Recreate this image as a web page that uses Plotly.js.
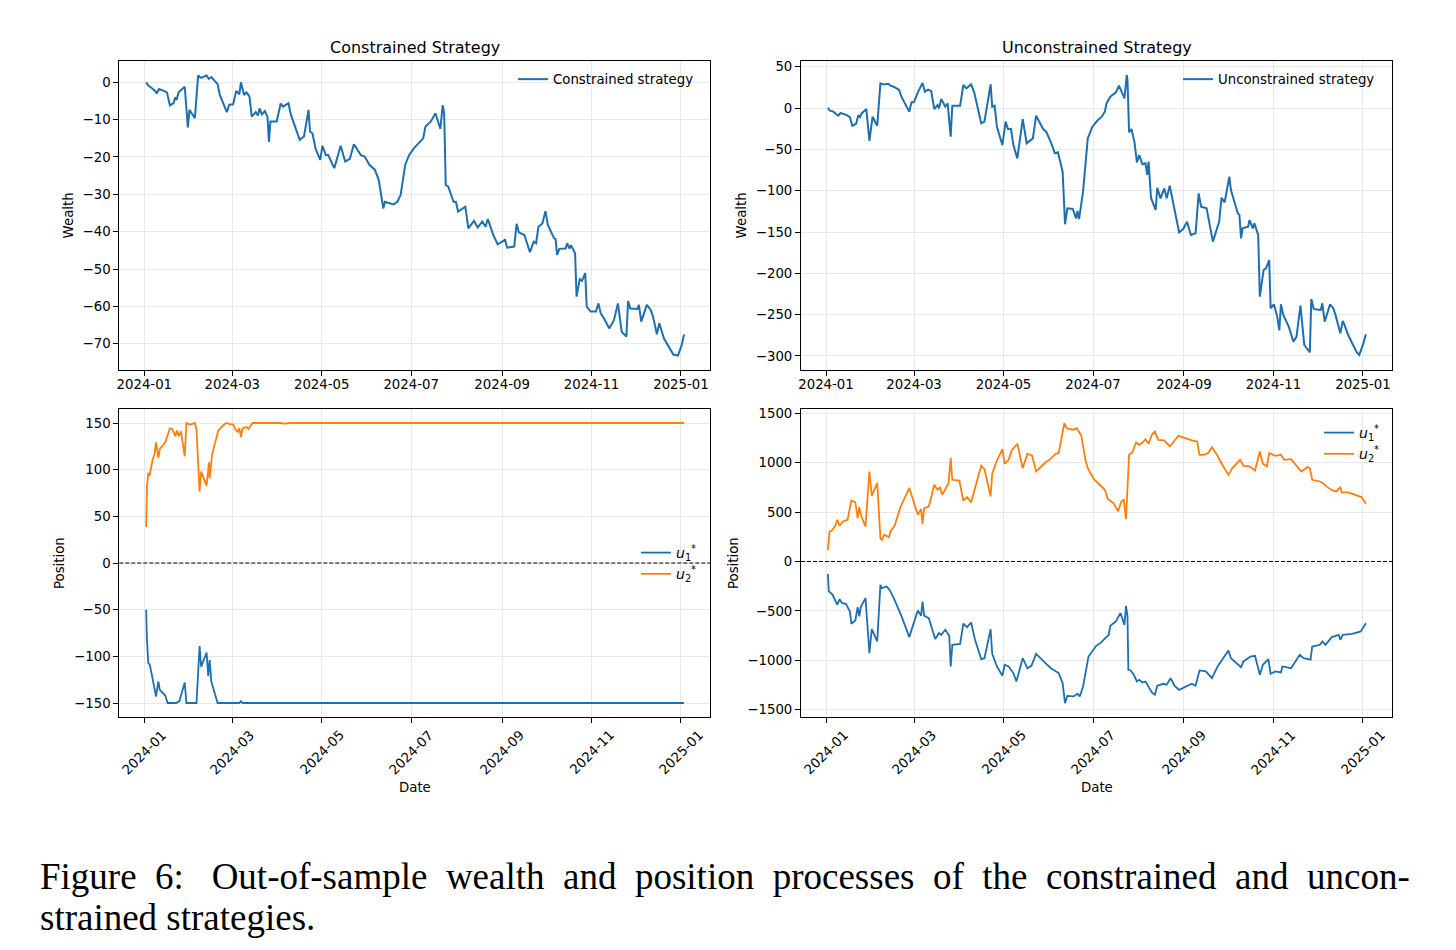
<!DOCTYPE html>
<html><head><meta charset="utf-8">
<script src="https://cdn.plot.ly/plotly-3.0.1.min.js"></script>
<style>html,body{margin:0;padding:0;background:#fff;} #chart{width:1456px;height:950px;}</style>
</head><body><div id="chart"></div>
<script>
// x tick positions and labels
const tickDates = ['2024-01-01','2024-03-01','2024-05-01','2024-07-01','2024-09-01','2024-11-01','2025-01-01'];
const tickLabels = ['2024-01','2024-03','2024-05','2024-07','2024-09','2024-11','2025-01'];

// ---- Constrained wealth (days since 2024-01-01, wealth) ----
const cWealthDays = [1.3,2.7,5.3,7.4,8.5,10,13.3,15.4,17.5,20,21,22,23.4,27.6,29.7,30.8,34.5,36.7,38.8,42.5,44,45.7,50,51.5,56.3,57.9,60.6,62.7,64.8,65.9,68,69.6,71.7,73.3,76,77.6,78.6,80.2,82.3,84,85,86,90.3,93,94.6,98.3,99.9,106,108.9,112,113,114.7,116.9,120,121.5,123.8,125.4,129.6,133.9,137,140.2,142.9,147.7,150.3,153.5,157.2,159.9,163,164.1,170,172.6,174.8,178,180.6,183.8,187.5,190.2,191.7,195.4,198.6,201.9,203.5,204.5,205.6,207.2,210.9,212.5,214,216.7,218.9,221,224.8,227.4,230.5,232.7,234.3,238,241,246,247.5,252.3,253.9,255.5,259.2,263,265.6,267.2,268.8,271.5,273.6,275.2,279.5,280.5,281.5,283.1,287.4,288.4,290,291,293.8,294.8,297,298.5,300.7,301.7,304.4,308,309.7,311.3,313.4,317.1,320.3,323,325.6,328.8,329.9,331.5,336.3,337.3,338.9,342.7,345.3,346.9,349.6,351.2,352.3,354.4,360.8,363.9,366.5,368.1];
const cWealthVals = [0,-0.9,-1.6,-2.3,-3.0,-1.8,-2.3,-2.7,-6.2,-5.6,-4.1,-4.7,-2.7,-1.2,-12.1,-7.4,-9.6,1.8,1.2,1.8,0.9,1.4,-0.5,-3.4,-8,-6,-5.9,-2.3,-3.2,0,-3.4,-2.7,-3.8,-9.2,-8,-8.9,-7,-8.6,-7.7,-9.2,-16,-10.5,-10.5,-5.7,-6.5,-5.6,-8.6,-15.4,-14.5,-7.4,-13.2,-13.7,-17.9,-20.8,-17,-19.5,-19.5,-23,-17,-21.2,-20.5,-16.6,-19.5,-19.9,-22.1,-23.4,-26.2,-33.8,-32,-32.7,-32,-30.2,-22,-19.5,-17.7,-16.3,-15,-11.9,-10.5,-8.3,-12.5,-6.1,-8.3,-27.5,-27.9,-32,-32,-34.6,-33.8,-33.3,-39.1,-37.1,-38.9,-37.3,-38.7,-36.6,-40.9,-43.4,-42.2,-44.3,-44,-37.9,-40.2,-40.9,-45.5,-42.7,-43.1,-38.7,-37.8,-34.5,-38.2,-41.8,-42,-46.2,-44.6,-44.5,-43.1,-44.5,-43.6,-45.8,-57.4,-52.7,-53.2,-51.1,-60.1,-61.4,-61.4,-59.2,-61.9,-63.2,-65.9,-63.7,-59.2,-66.8,-68.1,-58.6,-60.6,-60.7,-59.6,-64.1,-59.6,-60.9,-62.7,-67.5,-64.5,-65.9,-68.6,-72.9,-73.2,-70.4,-67.5];

// ---- Unconstrained wealth ----
const uWealthDays = [1.3,2.4,5,7.2,8.3,9.9,14.1,16.3,17.9,20.5,22.1,23.2,24.3,27.5,29.6,31.7,34.9,37.1,39.2,42.4,44,46.1,49.8,51.4,56.7,58.3,59.9,62.6,64.2,65.8,67.4,69.6,71.7,73.8,76,77,78.6,81.3,82.9,85,86.1,91.4,93.6,95.7,98.9,101,105.8,108,112.2,113.3,114.9,116.5,120.2,122.4,124,126.1,127.7,130.4,134.1,136.8,141,143.2,148,150.1,153.3,156,158.1,161.3,162.9,164.5,168.2,170.4,171.4,172.5,175.2,178.4,181.6,185.3,188,190.1,191.2,193.8,197.6,199.7,203.4,205,205.5,206.6,208.2,210.3,211.9,213.5,215.7,217.8,218.9,219.9,221.5,224.7,225.8,228,230.6,232.2,234.3,240.7,243.4,246.1,248.7,251.9,254,255.7,259.4,262.1,263.7,268,269.6,271.7,274.9,276,280.7,281.8,282.9,283.9,287.7,288.7,290.9,292,294.6,295.7,298.3,299.9,302.1,303.1,305.3,307.4,309,310.1,311.7,315.4,318.6,320.7,323.4,326,329.8,330.8,332.4,337.2,338.3,339.9,343.6,345.8,347.4,350.6,352.2,353.3,355.9,361.8,363.5,366.5,368];
const uWealthVals = [0.4,-2.8,-4.4,-7.7,-9.3,-6,-8.5,-10.9,-21.4,-19,-8.5,-10.9,-6.5,-1.2,-39.9,-10.5,-21.4,29.8,28.6,29.4,27,25.8,21.8,13.7,-4.4,6.9,6.9,19,23.8,30.2,19.8,22.2,20.6,-1.2,3.6,-0.4,10.9,1.6,5.6,-34.7,2.8,2.8,27.8,23.8,28.6,19,-18.5,-16.5,28.6,1.6,2.8,-22.6,-44.8,-16.5,-25.4,-25.4,-44.8,-60.9,-13.3,-42.7,-36.7,-9.3,-25.4,-28.6,-41.5,-54.8,-53.6,-77,-140.7,-121.4,-122.2,-133.5,-124.6,-134.3,-101.2,-36.7,-22.6,-14.5,-10.5,-4.4,5.6,13.7,19,27,11.7,39.9,33.9,-29.4,-25.4,-41.5,-65.7,-56.9,-68.1,-66.9,-81,-64.9,-108.5,-123.4,-96.4,-109.3,-97.2,-109.3,-94,-150.4,-146.4,-137.5,-153.6,-151.6,-103.2,-119.4,-121.4,-145.6,-161.7,-137.5,-108.5,-114.1,-83.1,-99.2,-127.4,-129.4,-157.7,-145.6,-143.5,-135.5,-145.6,-139.5,-153.6,-228.2,-196,-194,-183.9,-242.3,-237.5,-251.2,-269,-237.5,-250.4,-264.5,-282.7,-276.6,-239.1,-286.7,-295.6,-231,-243.1,-244.4,-236.3,-258.5,-237.5,-242.3,-251.2,-272.6,-257.7,-261.7,-274.6,-295.6,-298.8,-283.5,-273.8];

// ---- Constrained positions ----
const cU1Days = [1.3,1.8,2.7,3.7,5.3,8,9.6,10.6,14.3,15.9,21.8,23.9,27.6,28.7,35.6,37.7,38.8,42.5,43.6,44.6,45.7,50,64.8,65.9,67,368.1];
const cU1Vals = [-50,-82,-107,-109,-121,-143,-127,-136,-142,-150,-150,-148,-128,-150,-150,-89,-111,-96,-121,-104,-127,-150,-150,-148,-150,-150];
const cU2Days = [1.3,1.8,2.7,3.7,5.8,6.9,8,9.6,10.6,14.3,17.5,19.1,21.2,22.3,23.4,25,27.6,28.7,31.3,34.5,35.6,37.7,38.8,42.5,44.1,44.6,46.2,50.5,53.1,55.8,58.4,60.6,62.2,63.7,64.8,65.9,67,69.6,71.2,73.8,92.9,95.6,99.9,368.1];
const cU2Vals = [38.6,81.4,95.7,94.6,111.4,116,129.3,112.5,122.1,129.3,144.3,143.6,135.7,142.1,135.7,141,114.3,150,148.2,150,143.6,76.4,97.9,82.9,107.9,90.7,116.1,142.1,146.4,150,148.9,148.6,142.9,140.7,144.6,135,144.3,145.7,143.6,150,150,149.3,150,150];

// ---- Unconstrained positions ----
const uU1Days = [1.3,1.9,2.9,4.5,7.7,9.3,10.9,13.6,16.3,17.3,20,21.6,22.7,23.7,26.9,29.6,31.2,34.9,37.1,38.1,41.3,42.9,44.5,46.7,51.5,56.8,58.9,62.6,64.8,65.8,66.9,70.1,74.4,77,78.6,81.3,84,85,86.1,91.4,93.6,96.2,98.9,101.6,105.8,108,112.2,113.3,116.5,120.2,121.8,124.5,127.7,129.8,134.1,137.3,140,143.2,149.6,153.3,158.6,161.3,162.9,164.5,168.8,171.4,173,175.2,178.9,184.2,186.9,190.1,192.7,193.8,197.6,200.7,203.4,204.5,205.5,206.1,207.7,209.8,211.9,213.5,215.7,217.8,219.9,222.1,224.2,225.8,230.1,232.2,234.9,237.5,240.7,245,249.3,251.9,254.6,258.9,263.1,266.9,269.6,274.3,276,282.9,284.5,289.3,292.4,295.7,297.8,301.5,303.1,306.3,310.1,311.1,317,322.9,325.6,330.3,331.4,336.7,338.3,340.4,344.7,349.5,350.6,352.2,358.6,364.5,368];
const uU1Vals = [-125,-303,-313,-337,-438,-381,-421,-428,-506,-630,-597,-462,-556,-462,-371,-927,-684,-809,-236,-270,-253,-280,-320,-388,-556,-765,-664,-496,-549,-405,-549,-573,-785,-725,-742,-691,-752,-1062,-843,-833,-630,-664,-617,-792,-988,-978,-684,-934,-1062,-1156,-1045,-1062,-1129,-1214,-978,-1079,-1055,-934,-1028,-1079,-1129,-1230,-1433,-1359,-1365,-1338,-1365,-1264,-961,-853,-826,-775,-742,-651,-607,-522,-641,-448,-556,-1096,-1102,-1146,-1214,-1197,-1224,-1214,-1264,-1325,-1348,-1257,-1237,-1247,-1180,-1257,-1298,-1264,-1237,-1257,-1102,-1112,-1180,-1062,-1001,-900,-978,-1069,-1011,-961,-954,-1146,-1045,-988,-1136,-1112,-1122,-1062,-1079,-944,-978,-994,-860,-843,-809,-843,-765,-742,-792,-742,-732,-708,-624];
const uU2Days = [1.3,2.4,4,6.1,7.7,9.3,11.5,14.7,17.3,20,21.6,22.7,23.7,26.9,29.6,31.2,34.9,37.1,38.1,39.7,42.9,44,46.7,50.9,56.8,58.9,62.6,64.8,65.8,66.9,70.1,73.8,76,77.6,79.2,81.3,83.5,85,86.1,90.9,93.6,96.2,98.9,101.6,105.8,108,112.2,113.3,116.5,120.2,121.8,124.5,126.6,130.4,134.1,137.3,140.5,143.2,149.6,152.8,156.5,158.6,162.4,164,168.2,170.9,174.1,176.8,178.4,182.6,187.4,190.1,192.2,196,199.1,201.3,202.9,204.5,206.6,208.8,211.4,213.5,215.7,217.8,219.9,222.1,224.2,226.4,230.6,234.3,240.2,246.1,249.3,253,254.6,257.3,260.5,263.1,266.9,270.1,274.3,277,282.3,284.5,288.7,292.4,295.7,297.8,300.5,302.1,306.3,310.1,312.2,317,323.9,328.2,329.8,331.4,336.7,338.9,341,345.2,347.9,350.6,351.6,355.9,361.2,365,368];
const uU2Vals = [118,303,313,354,421,361,405,421,617,597,438,549,472,354,910,664,792,236,219,270,246,303,361,556,742,651,472,529,381,539,556,775,725,752,674,732,792,1045,826,819,617,651,597,742,967,934,657,887,1021,1136,988,1028,1123,1190,944,1089,1069,910,1001,1035,1089,1096,1399,1348,1332,1348,1271,1028,944,833,765,725,630,590,506,607,624,428,1079,1102,1203,1180,1203,1237,1190,1281,1315,1230,1224,1163,1271,1237,1224,1214,1079,1079,1096,1156,1069,978,876,944,1028,967,961,920,1112,988,961,1096,1069,1079,1028,1035,910,954,944,826,809,792,759,718,708,752,698,698,674,651,583];

const seriesNames = {c:'Constrained strategy', u:'Unconstrained strategy', u1:'<i>u</i><sub>1</sub><sup>*</sup>', u2:'<i>u</i><sub>2</sub><sup>*</sup>'};
const panelTitles = ['Constrained Strategy','Unconstrained Strategy'];
const captionWords1 = ['Figure','6:\u00a0','Out-of-sample','wealth','and','position','processes','of','the','constrained','and','uncon-'];
const captionLine2 = 'strained strategies.';

function toDate(d){
  const t = new Date(Date.UTC(2024,0,1) + Math.round(d*24)*3600000).toISOString();
  return t.slice(0,10)+' '+t.slice(11,16);
}
const dates = a => a.map(toDate);

const FONT = 'DejaVu Sans, Verdana, sans-serif';
const BLUE = '#1f6fae', ORANGE = '#ff7f0e';
const W = 1456, H = 950;
const px = v => v / W, py = v => 1 - v / H;
const xRange = ['2023-12-14 23:00','2025-01-21 00:00'];
const colL = [px(119.3), px(710.3)], colR = [px(801), px(1392.3)];
const rowT = [py(369.7), py(61)], rowB = [py(717), py(409)];

function xax(domain, anchor, showLabels){
  return {domain, anchor, type:'date', range:xRange, tickmode:'array', tickvals:tickDates, ticktext:tickLabels,
    showticklabels:showLabels, ticks:'outside', ticklen:5, tickwidth:1, tickcolor:'#000', ticklabelstandoff:-3,
    showline:true, linecolor:'#000', linewidth:1, mirror:true, showgrid:true, gridcolor:'#e8e8e8', gridwidth:1,
    zeroline:false, tickfont:{family:FONT, size:13.3, color:'#000'}, automargin:false, fixedrange:true};
}
function yax(domain, anchor, range, dtick){
  return {domain, anchor, range, tickmode:'linear', tick0:0, dtick, ticks:'outside', ticklen:5, tickwidth:1, tickcolor:'#000',
    showline:true, linecolor:'#000', linewidth:1, mirror:true, showgrid:true, gridcolor:'#e8e8e8', gridwidth:1,
    zeroline:false, tickfont:{family:FONT, size:13.3, color:'#000'}, automargin:false, fixedrange:true};
}

const traces = [
  {x:dates(cWealthDays), y:cWealthVals, xaxis:'x', yaxis:'y', name:seriesNames.c, legend:'legend', mode:'lines', line:{color:BLUE, width:2}},
  {x:dates(uWealthDays), y:uWealthVals, xaxis:'x2', yaxis:'y2', name:seriesNames.u, legend:'legend2', mode:'lines', line:{color:BLUE, width:2}},
  {x:dates(cU1Days), y:cU1Vals, xaxis:'x3', yaxis:'y3', name:seriesNames.u1, legend:'legend3', mode:'lines', line:{color:BLUE, width:1.8}},
  {x:dates(cU2Days), y:cU2Vals, xaxis:'x3', yaxis:'y3', name:seriesNames.u2, legend:'legend3', mode:'lines', line:{color:ORANGE, width:1.8}},
  {x:dates(uU1Days), y:uU1Vals, xaxis:'x4', yaxis:'y4', name:seriesNames.u1, legend:'legend4', mode:'lines', line:{color:BLUE, width:1.8}},
  {x:dates(uU2Days), y:uU2Vals, xaxis:'x4', yaxis:'y4', name:seriesNames.u2, legend:'legend4', mode:'lines', line:{color:ORANGE, width:1.8}}
];

function leg(xLeft, yTop, size){
  return {x:px(xLeft), y:py(yTop), xanchor:'left', yanchor:'top', bgcolor:'rgba(0,0,0,0)', borderwidth:0,
    font:{family:FONT, size:size||13.3, color:'#000'}, tracegroupgap:0, itemwidth:30};
}

const annotations = [];
function ann(x, y, text, opts){
  annotations.push(Object.assign({xref:'paper', yref:'paper', x, y, text, showarrow:false, xanchor:'center', yanchor:'middle',
    font:{family:FONT, size:13.3, color:'#000'}}, opts||{}));
}
ann(px((119.3+710.3)/2), py(47), panelTitles[0], {font:{family:FONT, size:16, color:'#000'}});
ann(px((801+1392.3)/2), py(47), panelTitles[1], {font:{family:FONT, size:16, color:'#000'}});
ann(px(68), py(215.4), 'Wealth', {textangle:-90});
ann(px(741), py(215.4), 'Wealth', {textangle:-90});
ann(px(59), py(563), 'Position', {textangle:-90});
ann(px(733), py(563), 'Position', {textangle:-90});
ann(px((119.3+710.3)/2), py(787), 'Date');
ann(px((801+1392.3)/2), py(787), 'Date');
['x3','x4'].forEach(xr => tickDates.forEach((d,i) => {
  annotations.push({xref:xr, yref:'paper', x:d, y:py(752), text:tickLabels[i], textangle:-45, showarrow:false,
    xanchor:'center', yanchor:'middle', font:{family:FONT, size:13.3, color:'#000'}});
}));
// caption: first line justified (interword space stretched, as in LaTeX)
const SERIF = 'Liberation Serif, Times New Roman, serif';
const capFont = {family:SERIF, size:37, color:'#000'};
ann(px(38), py(876), captionWords1.join('\u00a0 '), {xanchor:'left', font:capFont});
ann(px(38), py(917), captionLine2, {xanchor:'left', font:capFont});

const zeroLine = (xr, yr) => ({type:'line', xref:xr+' domain', yref:yr, x0:0, x1:1, y0:0, y1:0,
  line:{color:'#000', width:1, dash:'4px,2px'}});

const layout = {
  width:W, height:H, margin:{l:0, r:0, t:0, b:0}, paper_bgcolor:'#fff', plot_bgcolor:'#fff',
  showlegend:true,
  xaxis: xax(colL, 'y', true),  yaxis: yax(rowT, 'x', [-76.96, 5.7], 10),
  xaxis2: xax(colR, 'y2', true), yaxis2: yax(rowT, 'x2', [-316.6, 56.9], 50),
  xaxis3: xax(colL, 'y3', false), yaxis3: yax(rowB, 'x3', [-165, 165], 50),
  xaxis4: xax(colR, 'y4', false), yaxis4: yax(rowB, 'x4', [-1573, 1542], 500),
  legend: leg(513, 64), legend2: leg(1178, 64), legend3: leg(636, 537, 14), legend4: leg(1319, 417, 14),
  shapes: [zeroLine('x3','y3'), zeroLine('x4','y4')],
  annotations
};
Plotly.newPlot('chart', traces, layout, {staticPlot:true, displayModeBar:false});
</script></body></html>
